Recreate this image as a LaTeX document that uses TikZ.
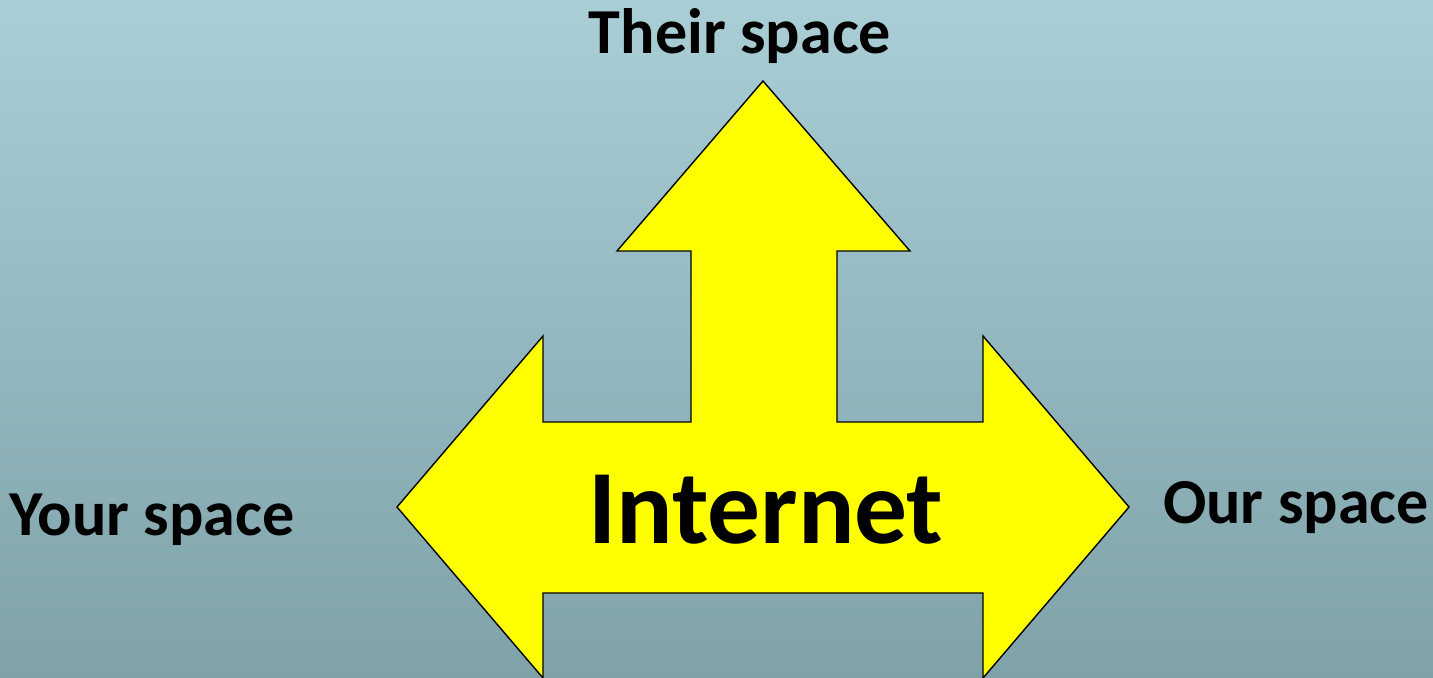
\documentclass[tikz,border=0pt]{standalone}
\usepackage{fontspec}
\setmainfont{Carlito}
\usetikzlibrary{positioning}
\definecolor{bgtop}{RGB}{170,206,214}
\definecolor{bgbottom}{RGB}{126,162,168}
\definecolor{arrowyellow}{RGB}{255,255,0}

\begin{document}
\begin{tikzpicture}[x=0.02cm, y=-0.02cm,
  spacelabel/.style={font=\bfseries\fontsize{36.5}{44}\selectfont, inner sep=0pt, anchor=base},
  netlabel/.style={font=\bfseries\fontsize{60}{72}\selectfont, inner sep=0pt, anchor=base},
  bigarrow/.style={fill=arrowyellow, draw=black, line width=0.8pt, line join=miter}
]
  \shade[top color=bgtop, bottom color=bgbottom] (0,0) rectangle (1433,677);
  \useasboundingbox (0,0) rectangle (1433,677);

  % three-headed arrow
  \draw[bigarrow] (763,81) -- (910,251) -- (837,251) -- (837,422) -- (983,422)
    -- (983,336) -- (1129,507) -- (983,678) -- (983,593) -- (543,593)
    -- (543,678) -- (397,507) -- (543,336) -- (543,422) -- (691,422)
    -- (691,251) -- (617,251) -- cycle;

  \node[netlabel] (internet) at (766,543) {Internet};
  \node[spacelabel] (their) at (740,53) {Their space};
  \node[spacelabel] (your) at (152,535) {Your space};
  \node[spacelabel] (our) at (1296,523) {Our space};
\end{tikzpicture}
\end{document}
